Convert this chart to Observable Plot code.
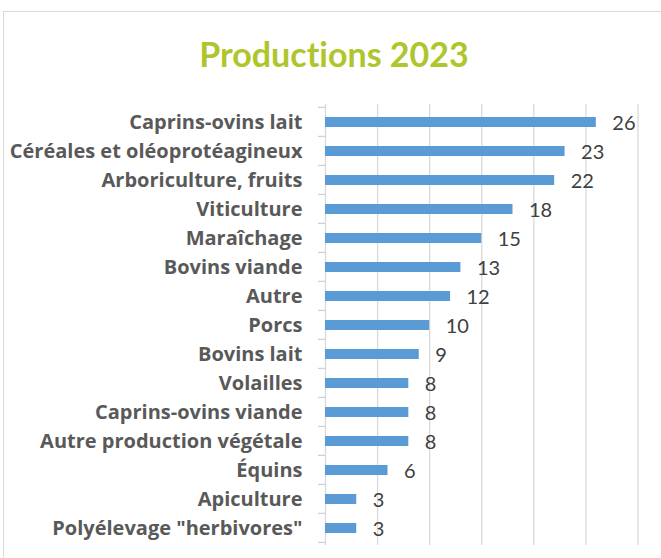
<!DOCTYPE html>
<html>
<head>
<meta charset="utf-8">
<script src="https://cdn.jsdelivr.net/npm/d3@7"></script>
<script src="https://cdn.jsdelivr.net/npm/@observablehq/plot@0.6"></script>
<style>
  html, body { margin: 0; padding: 0; background: #fff; }
  body { width: 661px; height: 558px; overflow: hidden; position: relative; font-family: Lato, "Open Sans", sans-serif; }
  #frame { position: absolute; left: 3px; top: 11px; width: 700px; height: 600px;
           border-top: 1px solid #D9D9D9; border-left: 1px solid #D9D9D9; box-sizing: border-box; }
  #title { position: absolute; left: 0; top: 0; }
  #chart { position: absolute; left: 0; top: 90px; }
  svg text { font-variant-ligatures: none; }
</style>
</head>
<body>
<div id="frame"></div>
<svg id="title" width="661" height="90">
  <text x="334" y="67" text-anchor="middle" font-family="Lato, 'Open Sans', sans-serif" font-weight="bold" font-size="34" fill="#AEC62B" style="font-variant-ligatures:none">Productions 2023</text>
</svg>
<div id="chart"></div>
<script>
const categories = [
  "Caprins-ovins lait",
  "Céréales et oléoprotéagineux",
  "Arboriculture, fruits",
  "Viticulture",
  "Maraîchage",
  "Bovins viande",
  "Autre",
  "Porcs",
  "Bovins lait",
  "Volailles",
  "Caprins-ovins viande",
  "Autre production végétale",
  "Équins",
  "Apiculture",
  "Polyélevage \"herbivores\""
];
const values = [26, 23, 22, 18, 15, 13, 12, 10, 9, 8, 8, 8, 6, 3, 3];
const xTicks = [0, 5, 10, 15, 20, 25, 30];

const data = categories.map((c, i) => ({cat: c, value: values[i]}));
const padInner = 0.66;

const chart = Plot.plot({
  width: 661,
  height: 468,
  marginTop: 14,
  marginBottom: 13,
  marginLeft: 325,
  marginRight: 23.5,
  style: {fontFamily: "Lato, 'Open Sans', sans-serif", background: "transparent", overflow: "visible"},
  x: {domain: [0, 30], axis: null},
  y: {domain: categories, axis: null, paddingInner: padInner, paddingOuter: padInner / 2},
  marks: [
    Plot.ruleX(xTicks, {x: d => d, stroke: "#D9D9D9", strokeWidth: 1.3}),
    Plot.barX(data, {x: "value", y: "cat", fill: "#5B9BD5"}),
    Plot.text(data, {x: "value", y: "cat", text: d => String(d.value), textAnchor: "start", dx: 16, dy: 1,
                     fontSize: 20, fill: "#404040"}),
    Plot.text(data, {x: () => 0, y: "cat", text: "cat", textAnchor: "end", dx: -23,
                     fontFamily: "'Open Sans', sans-serif",
                     fontSize: 20, fontWeight: "bold", fill: "#595959"})
  ]
});
document.getElementById("chart").appendChild(chart);

// category boundary ticks on the left axis
const ys = chart.scale("y");
const xs = chart.scale("x");
const step = ys.apply(categories[1]) - ys.apply(categories[0]);
const bw = step * (1 - padInner);
const x0 = xs.apply(0);
const bounds = categories.map(c => ys.apply(c) - (step - bw) / 2);
bounds.push(bounds[bounds.length - 1] + step);
d3.select(chart).append("g")
  .attr("stroke", "#D0D0D0").attr("stroke-width", 1.3)
  .selectAll("line").data(bounds).join("line")
  .attr("x1", x0 - 7).attr("x2", x0)
  .attr("y1", d => d).attr("y2", d => d);
</script>
</body>
</html>
